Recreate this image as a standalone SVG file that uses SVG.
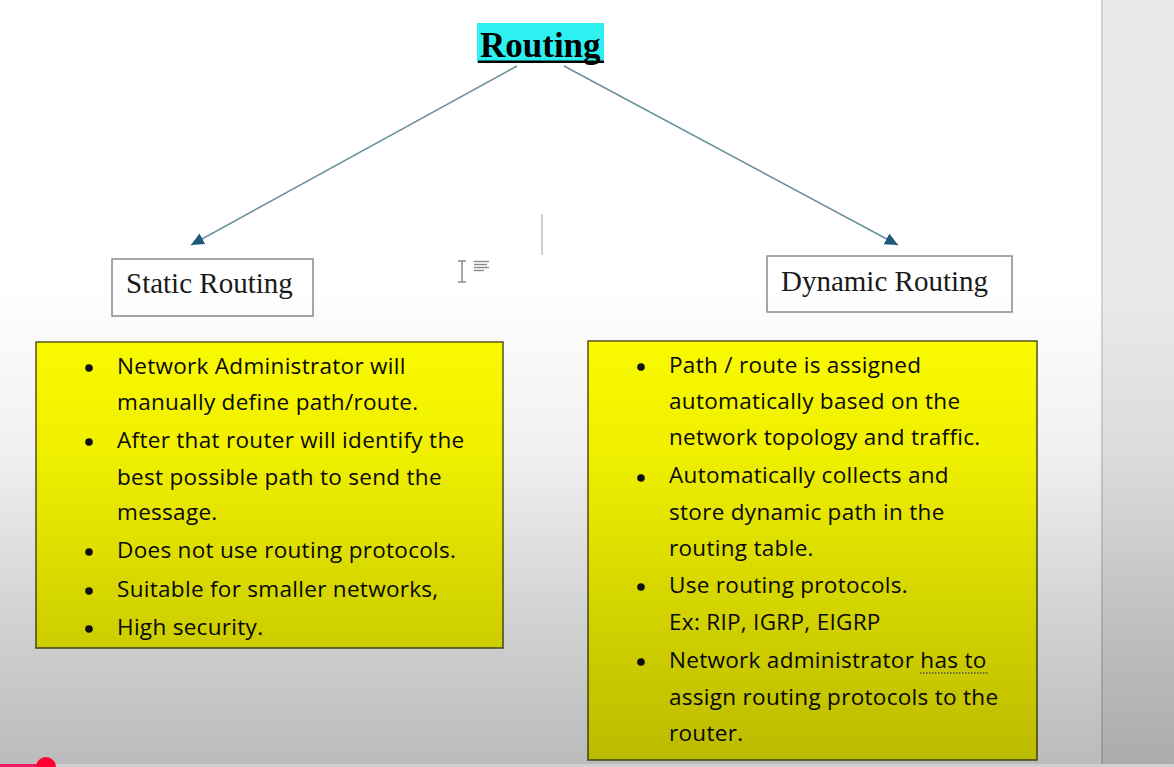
<svg xmlns="http://www.w3.org/2000/svg" width="1174" height="767" viewBox="0 0 1174 767">
<defs>
<style>
.ttl{font-family:"Liberation Serif",serif;font-weight:bold;font-size:35px;fill:#000}
.lbl{font-family:"Liberation Serif",serif;font-size:29px;fill:#1a1a1a}
.box{fill:#fff;stroke:#8a8a8a;stroke-width:1.5}
.ybox{fill:#ffff00;stroke:#55551a;stroke-width:1.5}
.bt{font-family:"Open Sans",sans-serif;font-size:22.5px;letter-spacing:0.3px;fill:#0a0a0a}
.conn{stroke:#6b8fa0;stroke-width:1.5;fill:none}
.ui{stroke:#8a8a8a;stroke-width:1.5}
</style>
<marker id="ah" markerUnits="userSpaceOnUse" markerWidth="14" markerHeight="12" refX="13" refY="6" orient="auto">
<path d="M0,0 L13,6 L0,12 Z" fill="#1d5a7a"/>
</marker>
<linearGradient id="shade" x1="0" y1="0" x2="0" y2="767" gradientUnits="userSpaceOnUse">
<stop offset="0" stop-color="#000" stop-opacity="0"/>
<stop offset="0.37" stop-color="#000" stop-opacity="0"/>
<stop offset="0.59" stop-color="#000" stop-opacity="0.06"/>
<stop offset="0.83" stop-color="#000" stop-opacity="0.19"/>
<stop offset="1" stop-color="#000" stop-opacity="0.27"/>
</linearGradient>
</defs>
<rect x="0" y="0" width="1174" height="767" fill="#fff"/>
<rect x="1102" y="0" width="72" height="767" fill="#eaeaea"/>
<rect x="1101" y="0" width="2" height="767" fill="#d2d2d2"/>

<g id="connectors">
<line class="conn" x1="517" y1="66" x2="191" y2="245" marker-end="url(#ah)"/>
<line class="conn" x1="564" y1="66" x2="898" y2="245" marker-end="url(#ah)"/>
</g>

<g id="routing">
<rect x="477" y="23" width="127" height="40" fill="#2ef0f0"/>
<text class="ttl" x="480" y="57">Routing</text>
<rect x="478" y="60.5" width="126" height="2.5" fill="#000"/>
</g>

<g id="static-routing">
<rect class="box" x="112" y="259" width="201" height="57"/>
<text class="lbl" x="126" y="293">Static Routing</text>
</g>

<g id="dynamic-routing">
<rect class="box" x="767" y="256" width="245" height="56"/>
<text class="lbl" x="781" y="291">Dynamic Routing</text>
</g>

<g id="static-details">
<rect class="ybox" x="36" y="342" width="467" height="306"/>
<g fill="#111">
<circle cx="89" cy="368" r="3.8"/>
<circle cx="89" cy="442" r="3.8"/>
<circle cx="89" cy="552" r="3.8"/>
<circle cx="89" cy="591" r="3.8"/>
<circle cx="89" cy="629" r="3.8"/>
</g>
<text class="bt" x="117" y="374">Network Administrator will</text>
<text class="bt" x="117" y="410">manually define path/route.</text>
<text class="bt" x="117" y="448">After that router will identify the</text>
<text class="bt" x="117" y="485">best possible path to send the</text>
<text class="bt" x="117" y="520">message.</text>
<text class="bt" x="117" y="558">Does not use routing protocols.</text>
<text class="bt" x="117" y="597">Suitable for smaller networks,</text>
<text class="bt" x="117" y="635">High security.</text>
</g>

<g id="dynamic-details">
<rect class="ybox" x="588" y="341" width="449" height="419"/>
<g fill="#111">
<circle cx="641" cy="367" r="3.8"/>
<circle cx="641" cy="478" r="3.8"/>
<circle cx="641" cy="587" r="3.8"/>
<circle cx="641" cy="662" r="3.8"/>
</g>
<text class="bt" x="669" y="373">Path / route is assigned</text>
<text class="bt" x="669" y="409">automatically based on the</text>
<text class="bt" x="669" y="445">network topology and traffic.</text>
<text class="bt" x="669" y="483">Automatically collects and</text>
<text class="bt" x="669" y="520">store dynamic path in the</text>
<text class="bt" x="669" y="556">routing table.</text>
<text class="bt" x="669" y="593">Use routing protocols.</text>
<text class="bt" x="669" y="630">Ex: RIP, IGRP, EIGRP</text>
<text class="bt" x="669" y="668">Network administrator has to</text>
<text class="bt" x="669" y="705">assign routing protocols to the</text>
<text class="bt" x="669" y="741">router.</text>
<line x1="920" y1="673" x2="989" y2="673" stroke="#666" stroke-width="1.5" stroke-dasharray="1.5 1.5"/>
</g>

<g id="editor-cursor">
<line class="ui" x1="462" y1="261" x2="462" y2="282"/>
<line class="ui" x1="458" y1="261" x2="466" y2="261"/>
<line class="ui" x1="458" y1="282" x2="466" y2="282"/>
<g stroke="#8a8a8a" stroke-width="1.4">
<line x1="474" y1="261.5" x2="489" y2="261.5"/>
<line x1="474" y1="264.5" x2="487" y2="264.5"/>
<line x1="474" y1="267.5" x2="489" y2="267.5"/>
<line x1="474" y1="270.5" x2="484" y2="270.5"/>
</g>
<line x1="542" y1="214" x2="542" y2="255" stroke="#cfcfcf" stroke-width="2"/>
</g>

<rect x="0" y="0" width="1174" height="767" fill="url(#shade)"/>
<rect x="0" y="764" width="1174" height="3" fill="#cfcfcf"/>
<rect x="0" y="764" width="45" height="3" fill="#f01860"/>
<circle cx="46" cy="767" r="10" fill="#ff0033"/>
</svg>
